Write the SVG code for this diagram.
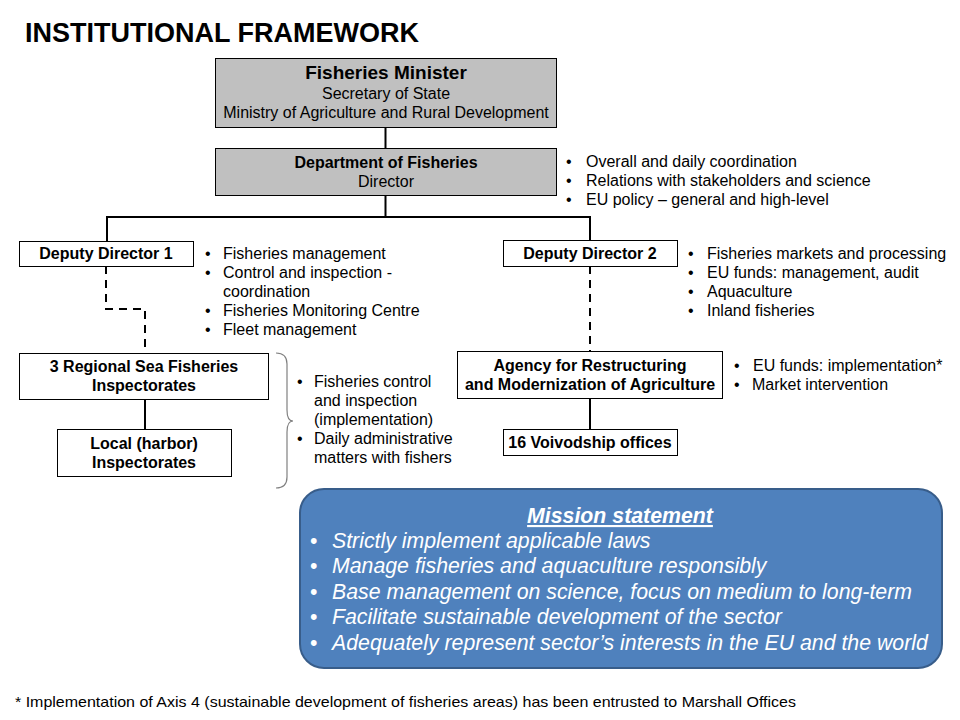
<svg xmlns="http://www.w3.org/2000/svg" width="960" height="720" viewBox="0 0 960 720">
<style>
text{font-family:"Liberation Sans",Arial,sans-serif;fill:#000}
.t{font-size:16px}
.b{font-size:16px;font-weight:bold}
.c{text-anchor:middle}
.box{fill:#fff;stroke:#000;stroke-width:1}
.gbox{fill:#c0c0c0;stroke:#000;stroke-width:1}
.ln{fill:none;stroke:#000;stroke-width:2}
.dash{fill:none;stroke:#000;stroke-width:2;stroke-dasharray:8 6}
.m{font-size:21.3px;font-style:italic;fill:#fff}
</style>
<rect width="960" height="720" fill="#fff"/>
<text x="25" y="42" style="font-size:27px;font-weight:bold">INSTITUTIONAL FRAMEWORK</text>

<g id="connectors">
<path class="ln" d="M385.5,127 V148"/>
<path class="ln" d="M385.5,195 V217 M106,217 H590 M107,216 V241 M590,216 V240"/>
<path class="dash" d="M106,266 V309 H145 V353"/>
<path class="dash" d="M590,266 V351"/>
<path class="ln" d="M145,399 V429"/>
<path class="ln" d="M590,398 V429"/>
</g>

<g id="minister">
<rect class="gbox" x="215.5" y="58.5" width="341" height="69"/>
<text class="c" x="386" y="79" style="font-size:19px;font-weight:bold">Fisheries Minister</text>
<text class="t c" x="386" y="99">Secretary of State</text>
<text class="t c" x="386" y="118">Ministry of Agriculture and Rural Development</text>
</g>

<g id="department">
<rect class="gbox" x="215.5" y="148.5" width="341" height="47"/>
<text class="b c" x="386" y="168">Department of Fisheries</text>
<text class="t c" x="386" y="187">Director</text>
</g>
<g id="department-notes">
<text class="t" x="566" y="167">•</text><text class="t" x="586" y="167">Overall and daily coordination</text>
<text class="t" x="566" y="186">•</text><text class="t" x="586" y="186">Relations with stakeholders and science</text>
<text class="t" x="566" y="205">•</text><text class="t" x="586" y="205">EU policy – general and high-level</text>
</g>

<g id="dd1">
<rect class="box" x="19.5" y="241.5" width="174" height="25"/>
<text class="b c" x="106" y="259">Deputy Director 1</text>
</g>
<g id="dd1-notes">
<text class="t" x="205" y="259">•</text><text class="t" x="223" y="259">Fisheries management</text>
<text class="t" x="205" y="278">•</text><text class="t" x="223" y="278">Control and inspection -</text>
<text class="t" x="223" y="297">coordination</text>
<text class="t" x="205" y="316">•</text><text class="t" x="223" y="316">Fisheries Monitoring Centre</text>
<text class="t" x="205" y="335">•</text><text class="t" x="223" y="335">Fleet management</text>
</g>

<g id="dd2">
<rect class="box" x="503.5" y="240.5" width="174" height="26"/>
<text class="b c" x="590" y="259">Deputy Director 2</text>
</g>
<g id="dd2-notes">
<text class="t" x="688" y="259">•</text><text class="t" x="707" y="259">Fisheries markets and processing</text>
<text class="t" x="688" y="278">•</text><text class="t" x="707" y="278">EU funds: management, audit</text>
<text class="t" x="688" y="297">•</text><text class="t" x="707" y="297">Aquaculture</text>
<text class="t" x="688" y="316">•</text><text class="t" x="707" y="316">Inland fisheries</text>
</g>

<g id="regional">
<rect class="box" x="19.5" y="353.5" width="249" height="46"/>
<text class="b c" x="144" y="372">3 Regional Sea Fisheries</text>
<text class="b c" x="144" y="391">Inspectorates</text>
</g>

<g id="local">
<rect class="box" x="57.5" y="429.5" width="174" height="47"/>
<text class="b c" x="144" y="449">Local (harbor)</text>
<text class="b c" x="144" y="468">Inspectorates</text>
</g>

<g id="inspectorate-notes">
<path d="M276,353 Q287,353 287,364 V410 Q287,421 293,421 Q287,421 287,432 V477 Q287,488 276,488" fill="none" stroke="#808080" stroke-width="1.2"/>
<text class="t" x="297" y="387">•</text><text class="t" x="314" y="387">Fisheries control</text>
<text class="t" x="314" y="406">and inspection</text>
<text class="t" x="314" y="425">(implementation)</text>
<text class="t" x="297" y="444">•</text><text class="t" x="314" y="444">Daily administrative</text>
<text class="t" x="314" y="463">matters with fishers</text>
</g>

<g id="agency">
<rect class="box" x="457.5" y="351.5" width="265" height="47"/>
<text class="b c" x="590" y="371">Agency for Restructuring</text>
<text class="b c" x="590" y="390">and Modernization of Agriculture</text>
</g>
<g id="agency-notes">
<text class="t" x="734" y="371">•</text><text class="t" x="753" y="371">EU funds: implementation*</text>
<text class="t" x="734" y="390">•</text><text class="t" x="752" y="390">Market intervention</text>
</g>

<g id="voivodship">
<rect class="box" x="503.5" y="429.5" width="174" height="26"/>
<text class="b c" x="590" y="448">16 Voivodship offices</text>
</g>

<g id="mission">
<rect x="300" y="489" width="642" height="179" rx="24" ry="24" fill="#4f81bd" stroke="#385d8a" stroke-width="2"/>
<text class="c" x="620" y="523" style="font-size:21.3px;font-weight:bold;font-style:italic;fill:#fff;text-decoration:underline">Mission statement</text>
<text class="m" x="310" y="548" style="font-style:normal">•</text><text class="m" x="332" y="548">Strictly implement applicable laws</text>
<text class="m" x="310" y="573" style="font-style:normal">•</text><text class="m" x="332" y="573">Manage fisheries and aquaculture responsibly</text>
<text class="m" x="310" y="599" style="font-style:normal">•</text><text class="m" x="332" y="599">Base management on science, focus on medium to long-term</text>
<text class="m" x="310" y="624" style="font-style:normal">•</text><text class="m" x="332" y="624">Facilitate sustainable development of the sector</text>
<text class="m" x="310" y="650" style="font-style:normal">•</text><text class="m" x="332" y="650">Adequately represent sector’s interests in the EU and the world</text>
</g>

<text x="15" y="707" style="font-size:15px" textLength="781" lengthAdjust="spacingAndGlyphs">* Implementation of Axis 4 (sustainable development of fisheries areas) has been entrusted to Marshall Offices</text>
</svg>
